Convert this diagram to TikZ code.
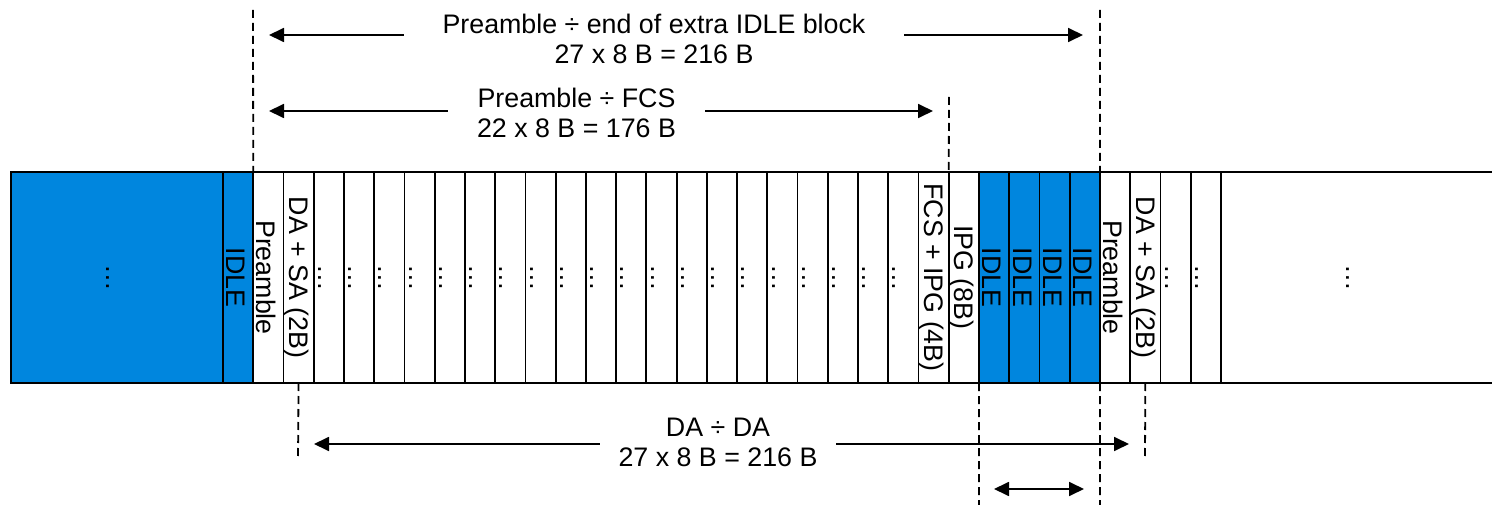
\documentclass[tikz,border=0pt]{standalone}
\usepackage{fontspec}
\setmainfont{Liberation Sans}
\usetikzlibrary{arrows.meta}
\definecolor{idleblue}{RGB}{0,134,222}
\newcommand{\diagfont}{\fontsize{26.8}{30.5}\selectfont}

\begin{document}
\begin{tikzpicture}[x=1pt,y=-1pt,
  >={Triangle[length=15pt,width=14pt]},
  cell/.style={draw, line width=1.8pt, minimum height=211pt, inner sep=0pt, outer sep=0pt},
  narrow/.style={cell, minimum width=30.24pt},
  idle/.style={fill=idleblue},
  vlabel/.style={rotate=-90, inner sep=0pt, font=\diagfont},
  vdots/.style={rotate=-90, inner sep=0pt, font=\diagfont},
  lbl/.style={align=center, inner sep=0pt, font=\diagfont, anchor=north},
  conn/.style={line width=1.8pt, ->},
  guide/.style={line width=1.8pt, dash pattern=on 8pt off 5pt}
]
\useasboundingbox (0,0) rectangle (1492,505);
\def\cw{30.24}

% --- frame bar ---------------------------------------------------------
\node[cell, idle, minimum width=212pt] (lead) at (117,277.5) {};
\node[cell, minimum width=280pt] (tail) at (1361,277.5) {};
\foreach \i in {2,...,25}
  \node[narrow] (cell\i) at ({223+(\i-0.5)*\cw},277.5) {};
\foreach \i in {30,31,32,33}
  \node[narrow] (cell\i) at ({223+(\i-0.5)*\cw},277.5) {};
\foreach \i in {1,26,27,28,29}
  \node[narrow, idle] (cell\i) at ({223+(\i-0.5)*\cw},277.5) {};
\draw[line width=2.5pt] (lead.north west) -- (tail.north east)
                        (lead.south west) -- (tail.south east)
                        (lead.north west) -- (lead.south west);

% block names written down the columns
\foreach \i/\t in {1/IDLE, 2/Preamble, 3/{DA + SA (2B)}, 24/{FCS + IPG (4B)},
                   25/{IPG (8B)}, 26/IDLE, 27/IDLE, 28/IDLE, 29/IDLE,
                   30/Preamble, 31/{DA + SA (2B)}}
  \node[vlabel] (name\i) at ({223+(\i-0.5)*\cw-2},277.5) {\t};

% elided content
\node[vdots] (leaddots) at (107.5,277.5) {…};
\node[vdots] (taildots) at (1348,277.5) {…};
\foreach \i in {4,...,23}
  \node[vdots] (dots\i) at ({223+(\i-0.5)*\cw-9},277.5) {…};
\foreach \i in {32,33}
  \node[vdots] (dots\i) at ({223+(\i-0.5)*\cw-9},277.5) {…};

% --- guide lines -------------------------------------------------------
\coordinate (gPre) at (253,10);
\coordinate (gEnd) at (1100,10);
\coordinate (gFcs) at (949,97);
\coordinate (gEndLow) at (1100,505);
\coordinate (gIdleLow) at (979,505);
\coordinate (gDa) at (298,460);
\coordinate (gDa2) at (1145,460);
\draw[guide] (gPre) -- (cell2.north west);
\draw[guide] (gEnd) -- (cell30.north west);
\draw[guide] (gFcs) -- (cell25.north west);
\draw[guide] (cell30.south west) -- (gEndLow);
\draw[guide] (cell26.south west) -- (gIdleLow);
\draw[guide] (cell3.south) -- (gDa);
\draw[guide] (cell31.south) -- (gDa2);

% --- span labels and arrows --------------------------------------------
\node[lbl, minimum width=500pt] (lblA) at (654,13.8)
  {Preamble ÷ end of extra IDLE block\\27 x 8 B = 216 B};
\coordinate (tipAL) at (269,35);
\coordinate (tipAR) at (1083,35);
\draw[conn] (lblA.west |- tipAL) -- (tipAL);
\draw[conn] (lblA.east |- tipAR) -- (tipAR);

\node[lbl, minimum width=257pt] (lblB) at (576.5,87.8)
  {Preamble ÷ FCS\\22 x 8 B = 176 B};
\coordinate (tipBL) at (269,111);
\coordinate (tipBR) at (933,111);
\draw[conn] (lblB.west |- tipBL) -- (tipBL);
\draw[conn] (lblB.east |- tipBR) -- (tipBR);

\node[lbl, minimum width=236pt] (lblC) at (718,417.6)
  {DA ÷ DA\\27 x 8 B = 216 B};
\coordinate (tipCL) at (314,444);
\coordinate (tipCR) at (1129,444);
\draw[conn] (lblC.west |- tipCL) -- (tipCL);
\draw[conn] (lblC.east |- tipCR) -- (tipCR);

\coordinate (gapL) at (994,489);
\coordinate (gapR) at (1084,489);
\draw[line width=1.8pt, <->] (gapL) -- (gapR);
\end{tikzpicture}
\end{document}
